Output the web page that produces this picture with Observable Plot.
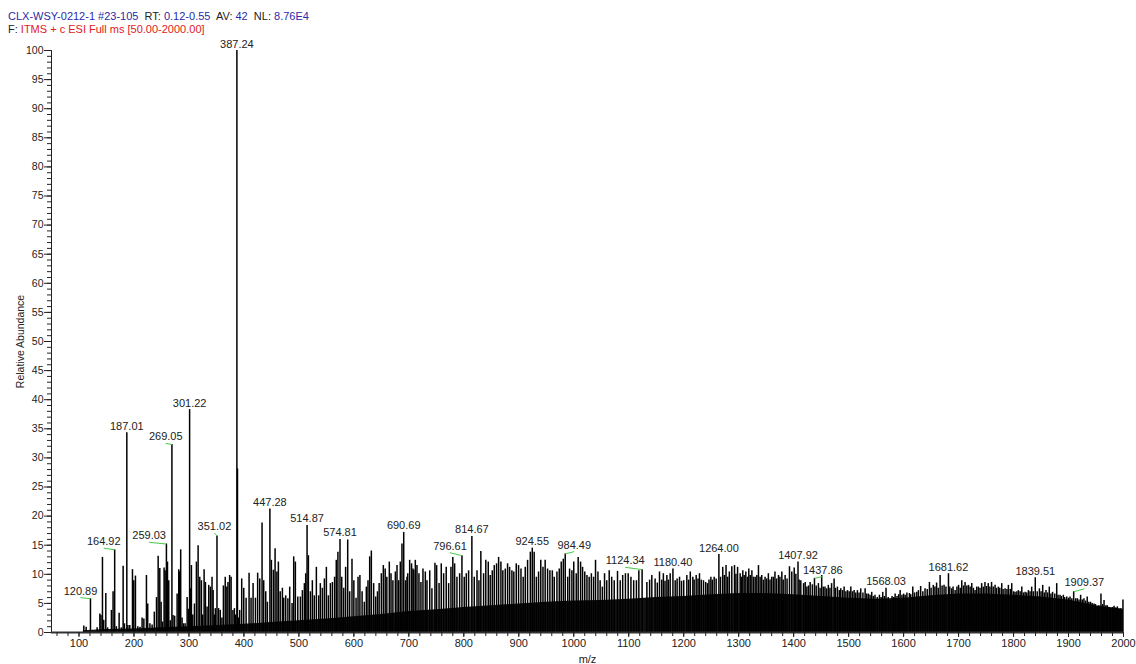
<!DOCTYPE html>
<html>
<head>
<meta charset="utf-8">
<script src="https://cdn.jsdelivr.net/npm/d3@7"></script>
<script src="https://cdn.jsdelivr.net/npm/@observablehq/plot@0.6"></script>
<style>
  html, body { margin: 0; padding: 0; background: #fff; }
  #wrap { width: 1136px; height: 664px; position: relative; overflow: hidden; }
  #header { position: relative; height: 36px; font-family: "Liberation Sans", Arial, sans-serif; font-size: 11px; line-height: 13px; }
  #header div { position: absolute; left: 8px; white-space: pre; }
  .b { color: #2a2aa8; } .k { color: #222; } .r { color: #e02020; }
  svg { display: block; }
</style>
</head>
<body>
<div id="wrap">
  <div id="header">
    <div style="top:10px"><span class="b">CLX-WSY-0212-1 #23-105</span><span class="k">  RT: </span><span class="b">0.12-0.55</span><span class="k">  AV: </span><span class="b">42</span><span class="k">  NL: </span><span class="b">8.76E4</span></div>
    <div style="top:23px"><span class="k">F: </span><span class="r">ITMS + c ESI Full ms [50.00-2000.00]</span></div>
  </div>
  <div id="chart"></div>
</div>
<script>
// ---- data: [m/z, relative abundance] ----
const peaks = [
[108.8,1.1],[113,0.9],[120.89,5.8],[133,0.8],[138,3.2],[140,2.9],[142.7,12.9],[145,2.1],[148.8,6.7],[152,0.8],
[159,3.8],[162,7.0],[164.92,14.2],[168,1.0],[173,3.3],[177,0.8],[180.3,11.4],[182.7,1.5],[187.01,34.3],[189,1.2],
[192.4,1.2],[197.3,10.8],[199.7,8.9],[202.7,9.7],[207,1.0],[211,0.9],[214.8,2.5],[218,2.3],[222.7,9.8],[225,4.9],
[229,1.5],[233,1.3],[237,3.5],[241,6.0],[244,13.1],[247,11.0],[249.4,5.2],[252,1.8],[254.8,11.1],[256.7,10.6],
[259.03,15.2],[261,12.1],[263.3,8.9],[266,2.0],[269.05,32.3],[271,2.9],[274,2.8],[278.5,6.6],[281.5,10.8],[283,10.4],
[285,14.2],[287.5,2.5],[290,1.5],[293,1.5],[296.7,6.0],[299,4.0],[301.22,38.3],[302.7,7.5],[304.5,11.5],[307,3.0],
[310,4.9],[313.6,12.1],[316.7,14.9],[319.7,9.5],[322.7,8.9],[325,3.0],[327.6,10.8],[330,8.6],[333,4.4],[336,8.1],
[339,7.8],[342,9.5],[344,7.2],[346,3.0],[348,4.1],[351.02,16.6],[354,4.1],[357,3.8],[360,2.5],[362.7,8.0],
[366,9.5],[369,7.8],[371,8.6],[374,9.8],[376.7,9.5],[380,3.8],[382.7,4.1],[385,3.0],[387.24,100],[388.3,28.1],
[390,2.5],[392.4,3.8],[396,9.2],[399.7,7.6],[404,5.9],[409.4,10.2],[413,5.9],[416.7,8.4],[421,5.9],[425,10.2],
[428.8,9.2],[433,18.8],[436,8.9],[439.7,7.0],[442.7,5.2],[447.28,21.2],[450,12.4],[453.6,10.7],[456.7,14.4],[460,10.4],
[462.7,12.1],[466,7.0],[470,7.6],[472.4,5.9],[476,6.3],[480,5.8],[483.3,7.8],[487.6,5.0],[490.6,13.0],[493.6,12.1],
[498,6.1],[502.7,6.1],[506.4,7.2],[510,8.4],[512.4,10.1],[514.87,18.4],[517.3,13.2],[521,7.0],[524.5,8.9],[528,6.3],
[531.8,11.2],[536,6.3],[539,8.4],[542.7,7.6],[546.4,9.2],[550,11.2],[553.6,6.3],[557.3,8.4],[561,8.6],[565,9.5],
[568,12.4],[571,13.8],[574.81,16.0],[578,9.5],[581.5,7.6],[585,11.2],[588.8,15.9],[592.4,7.0],[596.6,12.6],[600,8.9],
[604,5.9],[607.6,9.5],[611,9.8],[615,7.0],[619,5.2],[622.7,7.8],[625.7,8.9],[628.8,13.0],[631.8,14.0],[636,8.4],
[639.7,6.1],[643,7.0],[646,8.4],[650,10.1],[653.6,11.5],[657,10.9],[660,9.5],[664.5,12.1],[667.6,10.1],[671,8.9],
[675.5,10.4],[678.5,11.5],[681.5,8.9],[684.5,12.1],[687.5,15.2],[690.69,17.2],[694,8.9],[696.6,9.5],[698,10.1],[701.5,12.4],
[705,11.8],[707.5,10.9],[709,10.7],[711.8,12.4],[714.8,11.5],[718.4,10.1],[722,8.6],[725.7,10.9],[730,10.4],[733,8.9],
[738,10.6],[742,7.5],[747.5,11.9],[750.6,11.5],[755,8.4],[759,11.8],[763.3,10.1],[768,11.2],[772.4,8.4],[776.6,11.2],
[780,12.9],[783.3,11.8],[787.5,9.5],[792.4,10.1],[796.61,13.2],[800.8,9.5],[804.5,10.1],[808.7,10.6],[814.67,16.5],[819,9.5],
[824,10.6],[827.5,8.9],[831,13.9],[836,10.1],[840,12.4],[844.5,12.1],[848,9.8],[851.8,10.6],[855.4,11.5],[859.6,11.8],
[863.3,12.9],[867.5,12.1],[871,10.6],[875.4,10.9],[879.6,11.8],[883.3,11.2],[887.5,10.6],[891,10.4],[895.4,11.8],[899.6,11.5],
[904,10.9],[908,9.5],[911.8,11.2],[916,12.4],[921,13.8],[924.55,14.5],[928,13.8],[932,9.5],[936,10.4],[940,12.4],
[944,11.2],[948,12.4],[952.4,10.9],[956.6,10.6],[961,10.6],[964.5,9.5],[969.4,10.4],[973.6,10.9],[977.2,12.1],[981,12.6],
[984.49,13.5],[989,9.5],[992.4,10.9],[996.6,10.6],[1000,12.1],[1004.5,10.1],[1008,12.9],[1012.4,12.1],[1016,11.2],[1020,10.4],
[1024,9.8],[1028,9.5],[1032,10.1],[1036,9.5],[1039.6,12.4],[1044,10.4],[1048,8.9],[1052,7.8],[1056,10.1],[1060,8.9],
[1064.5,10.6],[1069,9.5],[1073.6,8.9],[1079.6,10.5],[1084.5,8.9],[1089,9.8],[1094,10.1],[1099,10.1],[1104,9.5],[1109,8.9],
[1114,8.9],[1118.4,10.6],[1124.34,10.8],[1133,8.6],[1138,9.0],[1142,9.8],[1148,9.2],[1152,8.5],[1156,10.4],[1160,9.0],
[1163,10.1],[1166,8.8],[1169.4,9.8],[1172,9.0],[1175.4,10.1],[1180.40,10.9],[1184.5,8.9],[1188,9.2],[1192.4,9.5],[1196,8.8],
[1200,8.9],[1205.7,9.8],[1209,9.0],[1212,10.4],[1216.6,9.5],[1219,9.0],[1222.7,9.8],[1226,9.2],[1228.7,10.1],[1232,9.0],
[1236,8.9],[1240,8.6],[1243.3,8.4],[1246,9.0],[1249.4,9.5],[1252,9.0],[1255.4,9.5],[1259,9.2],[1264.00,13.4],[1267,9.5],
[1271,11.2],[1274,9.8],[1277,11.5],[1280,9.5],[1283,10.4],[1287.5,11.3],[1292.4,11.5],[1295,10.0],[1298,11.2],[1302.7,10.1],
[1305,9.5],[1307.5,10.6],[1310,9.8],[1313,10.4],[1316,9.5],[1318.4,10.9],[1321,9.8],[1324,10.6],[1327,9.5],[1330,9.5],
[1333,9.8],[1336,11.5],[1339,9.5],[1342,9.8],[1345,9.0],[1348,9.5],[1351,9.2],[1354,10.1],[1357,9.0],[1360,9.5],
[1363,9.5],[1366,10.4],[1369,9.2],[1372.4,9.8],[1375,9.5],[1378.5,10.4],[1381,9.0],[1384.5,9.8],[1388,9.2],[1392.4,11.3],
[1396.6,10.4],[1401,11.1],[1404,10.0],[1407.92,12.1],[1410,9.0],[1413,8.9],[1418,8.4],[1421,8.6],[1424,7.8],[1427,8.0],
[1430,8.6],[1434,8.2],[1437.86,9.3],[1441,8.0],[1445,8.4],[1448,7.6],[1451,9.8],[1454,7.8],[1457,7.8],[1460,7.5],
[1463,8.1],[1466,7.6],[1469,8.4],[1473.6,9.2],[1476,7.6],[1479.6,7.8],[1483,7.2],[1485.7,7.5],[1489,7.2],[1491.8,7.8],
[1495,7.0],[1498,7.2],[1501,7.0],[1504,7.8],[1507,7.0],[1510,7.2],[1513,6.8],[1516,7.2],[1519,6.8],[1522,7.5],
[1526,6.8],[1530,7.5],[1533,6.6],[1536,6.6],[1539,6.4],[1542,6.9],[1545,6.2],[1548,6.4],[1552,6.0],[1556,6.4],
[1559,6.0],[1562,6.9],[1565,6.2],[1568.03,7.6],[1572,6.0],[1575.5,5.5],[1579,6.2],[1582,6.0],[1584.6,6.6],[1588,6.2],
[1591,6.5],[1593.7,7.2],[1597,6.4],[1600,6.6],[1602.8,6.4],[1606,6.8],[1610.6,6.7],[1613,6.5],[1616.7,7.8],[1620,6.8],
[1624,6.9],[1627,7.2],[1631,7.9],[1635,7.0],[1639,7.5],[1643,7.4],[1647,8.6],[1650,7.6],[1654,8.1],[1657,7.8],
[1660,8.5],[1663,7.6],[1666.4,9.8],[1670,8.0],[1673.6,8.1],[1677,7.8],[1681.62,10.1],[1684,7.8],[1687.6,7.5],[1690,7.8],
[1693.7,7.2],[1697,7.8],[1700,8.1],[1703,7.6],[1705.8,8.9],[1709,8.0],[1711.8,8.6],[1715,8.0],[1718,8.1],[1721,7.8],
[1724,8.4],[1727,7.6],[1730,7.2],[1733,7.8],[1736,7.8],[1739,7.6],[1742,8.4],[1745,7.8],[1748,8.6],[1751,7.9],
[1754,8.4],[1757,7.8],[1760,8.6],[1763,7.8],[1766.4,8.1],[1769,7.6],[1772.4,7.8],[1775,7.6],[1778.5,8.4],[1781,7.4],
[1784.6,7.5],[1788,7.4],[1790.6,8.1],[1794,7.4],[1796.7,8.4],[1800,7.0],[1802.7,6.9],[1806,7.0],[1808.8,7.2],[1812,7.0],
[1815,7.8],[1818,6.8],[1821,6.9],[1824,6.8],[1827,7.2],[1830,7.0],[1833,7.8],[1836,7.0],[1839.51,9.4],[1843,7.0],
[1847,7.5],[1850,7.0],[1853,8.1],[1856,6.8],[1859,7.2],[1862,6.8],[1865,7.8],[1868,6.6],[1871,6.9],[1875,6.6],
[1878.5,8.4],[1881,6.4],[1884.5,6.4],[1887,6.2],[1890.6,6.4],[1893,6.0],[1896.7,6.1],[1900,5.9],[1902.7,6.1],[1906,5.8],
[1909.37,7.0],[1913,5.8],[1916,5.8],[1919,5.6],[1922,6.4],[1925,5.6],[1928,5.8],[1931,5.4],[1934,6.1],[1937,5.2],
[1940,5.2],[1943,5.0],[1946.4,4.9],[1949,4.8],[1952.4,4.4],[1955,4.6],[1959,6.6],[1962,4.8],[1964.6,5.5],[1968,4.6],
[1970.6,4.6],[1974,4.3],[1976.7,4.1],[1980,4.3],[1982.8,4.5],[1986,4.2],[1988.8,4.4],[1992,4.0],[1995,4.1],[1999,5.6]
];

// dense unresolved baseline (black fill), [m/z, abundance]
const floorMz = [108,150,200,250,300,350,400,450,500,550,600,650,700,750,800,850,900,950,1000,1050,1100,1150,1200,1250,1300,1350,1400,1450,1500,1550,1600,1650,1700,1750,1800,1850,1900,1950,2000];
const floorAb = [0.3,0.5,0.6,0.8,1.0,1.2,1.4,1.7,2.0,2.3,2.7,3.1,3.6,3.9,4.3,4.6,4.9,5.2,5.4,5.5,5.7,6.0,6.2,6.5,6.7,6.7,6.5,6.2,5.9,5.7,5.9,6.3,6.6,6.6,6.4,6.1,5.6,4.6,4.0];

// peak annotations; labelAtMz/labelAtAb: where a displaced label sits (null = directly above)
const labelMz   = [120.89,164.92,187.01,259.03,269.05,301.22,351.02,387.24,447.28,514.87,574.81,690.69,796.61,814.67,924.55,984.49,1124.34,1180.40,1264.00,1407.92,1437.86,1568.03,1681.62,1839.51,1909.37];
const labelText = ["120.89","164.92","187.01","259.03","269.05","301.22","351.02","387.24","447.28","514.87","574.81","690.69","796.61","814.67","924.55","984.49","1124.34","1180.40","1264.00","1407.92","1437.86","1568.03","1681.62","1839.51","1909.37"];
const labelAtMz = [102.7,145,null,227.6,257.8,null,346.4,null,null,null,null,null,774.9,null,null,1000.9,1093.6,null,null,null,1453,null,null,null,1928.7];
const labelAtAb = [6.0,14.5,null,15.5,32.5,null,17.1,null,null,null,null,null,13.7,null,null,13.9,11.2,null,null,null,9.6,null,null,null,7.5];

const yMajorTicks = [0,5,10,15,20,25,30,35,40,45,50,55,60,65,70,75,80,85,90,95,100];
const xMajorTicks = [100,200,300,400,500,600,700,800,900,1000,1100,1200,1300,1400,1500,1600,1700,1800,1900,2000];

// ---- build tables ----
const peakData = peaks.map(([mz, ab]) => ({mz, ab}));
const floorData = floorMz.map((mz, i) => ({mz, ab: floorAb[i]}));
const abOf = mz => peakData.find(d => Math.abs(d.mz - mz) < 0.01).ab;
const labels = labelMz.map((mz, i) => ({
  mz, ab: abOf(mz), text: labelText[i],
  tx: labelAtMz[i] ?? mz, ty: labelAtAb[i] ?? abOf(mz),
  shifted: labelAtMz[i] != null
}));

const font = "'Liberation Sans', Arial, sans-serif";
const chart = Plot.plot({
  width: 1136,
  height: 628,
  marginTop: 14,
  marginBottom: 32,
  marginLeft: 51,
  marginRight: 13,
  style: {fontFamily: font, fontSize: "11px", color: "#222", background: "#fff", overflow: "visible"},
  x: {domain: [50, 2000]},
  y: {domain: [0, 100]},
  marks: [
    Plot.areaY(floorData, {x: "mz", y: "ab", fill: "#111"}),
    Plot.ruleX(peakData, {x: "mz", y1: 0, y2: "ab", stroke: "#000", strokeWidth: 1.5}),
    Plot.link(labels.filter(d => d.shifted), {x1: "tx", y1: "ty", x2: "mz", y2: "ab", stroke: "#44cc44", strokeWidth: 1}),
    Plot.text(labels, {x: "tx", y: "ty", text: "text", dy: -3, lineAnchor: "bottom", fill: "#222", fontSize: 11}),
    Plot.ruleX([50], {y1: 0, y2: 100, stroke: "#222", strokeWidth: 1}),
    Plot.ruleY([0], {x1: 50, x2: 2000, stroke: "#333", strokeWidth: 2}),
    Plot.axisY({ticks: yMajorTicks, tickSize: 7, tickPadding: 1, stroke: "#222", tickFormat: d3.format("d"), label: "Relative Abundance", labelAnchor: "center", labelArrow: "none", labelOffset: 35, fontSize: 10.5}),
    Plot.axisY({ticks: d3.range(0, 101, 1), tickSize: 4, tickFormat: () => "", stroke: "#222", label: null}),
    Plot.axisX({ticks: xMajorTicks, tickSize: 5, tickPadding: 2, stroke: "#222", tickFormat: d3.format("d"), label: "m/z", labelAnchor: "center", labelArrow: "none", labelOffset: 30, fontSize: 11}),
    Plot.axisX({ticks: d3.range(60, 2001, 20), tickSize: 4, tickFormat: () => "", stroke: "#222", label: null})
  ]
});
document.getElementById("chart").appendChild(chart);
</script>
</body>
</html>
